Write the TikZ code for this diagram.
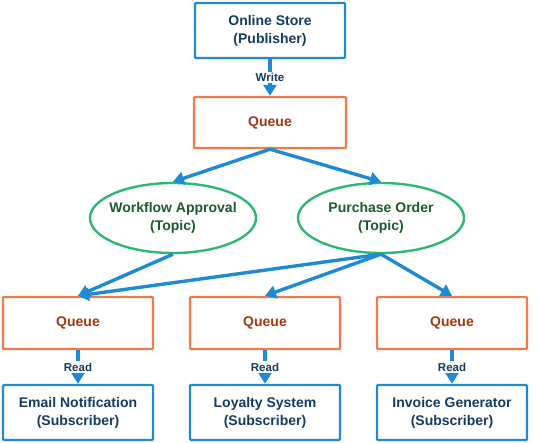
\documentclass[tikz,border=0pt]{standalone}
\usepackage{fontspec}
\setmainfont{Liberation Sans}
\usetikzlibrary{arrows.meta,shapes.geometric}
\definecolor{pubblue}{HTML}{1E8AD6}
\definecolor{pubtext}{HTML}{143C62}
\definecolor{qorange}{HTML}{F2794A}
\definecolor{qtext}{HTML}{A3380E}
\definecolor{tgreen}{HTML}{2DB872}
\definecolor{ttext}{HTML}{1C5A2C}
\tikzset{
  client/.style={draw=pubblue,line width=2.4pt,rounded corners=1pt,minimum width=150pt,minimum height=55pt,
    align=center,text=pubtext,font=\fontsize{14}{18}\selectfont\bfseries},
  queuebox/.style={draw=qorange,line width=2.4pt,rounded corners=1pt,minimum width=150pt,minimum height=52pt,
    text=qtext,font=\fontsize{14}{18}\selectfont\bfseries},
  topic/.style={ellipse,draw=tgreen,line width=2.4pt,minimum width=166pt,minimum height=70pt,
    inner xsep=-5.5pt,inner ysep=0pt,align=center,text=ttext,font=\fontsize{14}{18}\selectfont\bfseries},
  link/.style={draw=pubblue,line width=3.4pt,-{Triangle[length=11pt,width=13pt]}},
  rw/.style={fill=white,inner sep=1.5pt,text=pubtext,font=\fontsize{11.5}{13}\selectfont\bfseries}
}
\begin{document}
\begin{tikzpicture}[x=1pt,y=-1pt]
  \useasboundingbox (0,0) rectangle (534,443);
  % Publisher
  \node[client] (store) at (270,30.5) {Online Store\\(Publisher)};
  \node[queuebox,minimum width=152pt,minimum height=51pt] (qmain) at (270,122.5) {Queue};
  \draw[link] (store) -- node[rw] {Write} (qmain);
  % Topics
  \node[topic] (workflow) at (173,218) {Workflow Approval\\(Topic)};
  \node[topic] (purchase) at (381,218) {Purchase Order\\(Topic)};
  \draw[link] (qmain.south) -- (workflow.north);
  \draw[link] (qmain.south) -- (purchase.north);
  % Subscriber queues
  \node[queuebox] (qemail) at (78,323) {Queue};
  \node[queuebox] (qloyalty) at (265,323) {Queue};
  \node[queuebox] (qinvoice) at (452,323) {Queue};
  \draw[link] (workflow.south) -- (qemail.north);
  \draw[link] (purchase.south) -- (qemail.north);
  \draw[link] (purchase.south) -- (qloyalty.north);
  \draw[link] (purchase.south) -- (qinvoice.north);
  % Subscribers
  \node[client] (email) at (78,412.5) {Email Notification\\(Subscriber)};
  \node[client] (loyalty) at (265,412.5) {Loyalty System\\(Subscriber)};
  \node[client] (invoice) at (452,412.5) {Invoice Generator\\(Subscriber)};
  \draw[link] (qemail) -- node[rw] {Read} (email);
  \draw[link] (qloyalty) -- node[rw] {Read} (loyalty);
  \draw[link] (qinvoice) -- node[rw] {Read} (invoice);
\end{tikzpicture}
\end{document}
